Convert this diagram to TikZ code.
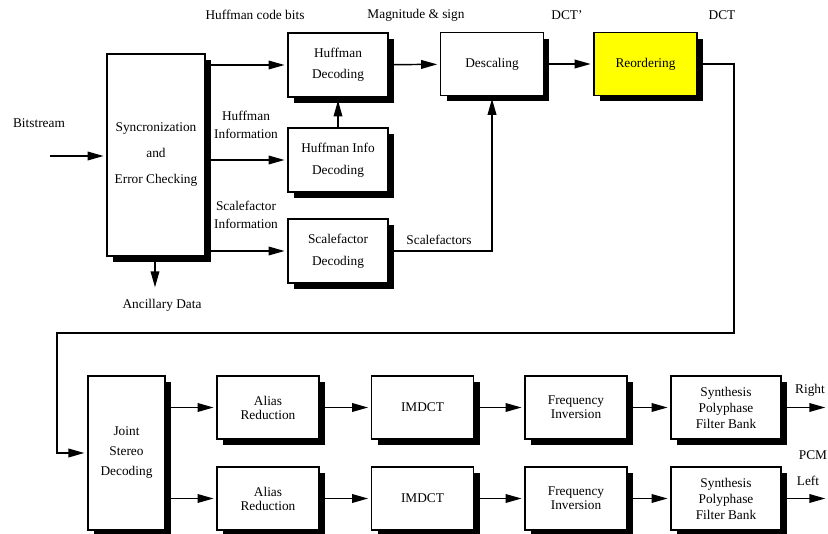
\documentclass[tikz,border=0pt]{standalone}
\usepackage{fontspec}
\setmainfont{Liberation Serif}
\usepackage{xcolor}
\usepackage{tikz}
\usetikzlibrary{arrows.meta,positioning,shadows}
\definecolor{reordyellow}{HTML}{FFFF00}
\tikzset{
  blk/.style={draw=black,line width=1.2pt,fill=white,align=center,font=\normalsize,inner sep=2pt,
              drop shadow={shadow xshift=4.5pt,shadow yshift=-4.5pt,fill=black,opacity=1}},
  dec/.style={blk,minimum width=75pt,minimum height=48pt},
  wide/.style={blk,minimum width=77pt,minimum height=47pt},
  stage/.style={blk,minimum width=76.5pt,minimum height=47pt,font=\fontsize{10}{10.5}\selectfont},
  lbl/.style={font=\normalsize,inner sep=1pt},
  arr/.style={-{Triangle[length=12pt,width=6.5pt]},line width=1.1pt,shorten >=2pt},
}
\begin{document}
\begin{tikzpicture}[x=0.75pt,y=-0.75pt]
  \useasboundingbox (0,0) rectangle (828,534);
  % decoding front end
  \node[blk,minimum width=73.5pt,minimum height=151.5pt] (sync) at (156,155)
       {Syncronization\\[7.5pt]and\\[7.5pt]Error Checking};
  \node[dec] (hdec) at (338,65) {Huffman\\[4pt]Decoding};
  \node[dec] (hinfo) at (338,160) {Huffman Info\\[4.5pt]Decoding};
  \node[dec] (sfdec) at (338,251) {Scalefactor\\[4.5pt]Decoding};
  \node[wide] (desc) at (492,64) {Descaling};
  \node[wide,fill=reordyellow] (reord) at (645.5,64) {Reordering};
  % stereo / synthesis
  \node[blk,minimum width=58pt,minimum height=115.5pt] (joint) at (126.5,453)
       {Joint\\[3pt]Stereo\\[3pt]Decoding};
  \node[stage] (aliasR) at (268,407.5) {Alias\\Reduction};
  \node[stage] (imdctR) at (422.5,407.5) {IMDCT};
  \node[stage] (freqR) at (576,407.5) {Frequency\\Inversion};
  \node[stage,minimum width=82.5pt,font=\normalsize] (synR) at (726,407.5) {Synthesis\\Polyphase\\Filter Bank};
  \node[stage] (aliasL) at (268,498.5) {Alias\\Reduction};
  \node[stage] (imdctL) at (422.5,498.5) {IMDCT};
  \node[stage] (freqL) at (576,498.5) {Frequency\\Inversion};
  \node[stage,minimum width=82.5pt,font=\normalsize] (synL) at (726,498.5) {Synthesis\\Polyphase\\Filter Bank};
  % labels
  \node[lbl] (lhcb) at (255,15) {Huffman code bits};
  \node[lbl] (lmag) at (416,15) {Magnitude \& sign};
  \node[lbl] (ldctp) at (567,15) {DCT'};
  \node[lbl] (ldct) at (722,15) {DCT};
  \node[lbl] (lbits) at (39,123) {Bitstream};
  \node[lbl,align=center] (lhinf) at (246,125) {Huffman\\[1.5pt]Information};
  \node[lbl,align=center] (lsinf) at (246,215) {Scalefactor\\[1.5pt]Information};
  \node[lbl] (lanc) at (162,305) {Ancillary Data};
  \node[lbl] (lsf) at (439,240) {Scalefactors};
  \node[lbl] (lright) at (810,390) {Right};
  \node[lbl] (lpcm) at (813,455) {PCM};
  \node[lbl] (lleft) at (808,481) {Left};
  % connectors
  \coordinate (bsin) at (50,156);
  \coordinate (ancend) at (155,290);
  \coordinate (loopR) at (734,333);
  \coordinate (loopL) at (57,333);
  \coordinate (pcmR) at (828,407.5);
  \coordinate (pcmL) at (828,498.5);
  \draw[arr] (bsin) -- (bsin -| sync.west);
  \draw[arr] (sync.east |- hdec) -- (hdec.west);
  \draw[arr] (sync.east |- hinfo) -- (hinfo.west);
  \draw[arr] (sync.east |- sfdec) -- (sfdec.west);
  \draw[arr] (sync.south -| ancend) -- (ancend);
  \draw[arr] (hinfo.north) -- (hdec.south);
  \draw[arr] (hdec) -- (desc);
  \draw[arr] (desc) -- (reord);
  \draw[arr] (sfdec.east) -| (desc.south);
  \draw[arr] (reord.east) -| (loopR) -- (loopL) |- (joint.west);
  \draw[arr] (joint.east |- aliasR) -- (aliasR);
  \draw[arr] (joint.east |- aliasL) -- (aliasL);
  \draw[arr] (aliasR) -- (imdctR);
  \draw[arr] (imdctR) -- (freqR);
  \draw[arr] (freqR) -- (synR);
  \draw[arr] (synR) -- (pcmR);
  \draw[arr] (aliasL) -- (imdctL);
  \draw[arr] (imdctL) -- (freqL);
  \draw[arr] (freqL) -- (synL);
  \draw[arr] (synL) -- (pcmL);
\end{tikzpicture}
\end{document}
